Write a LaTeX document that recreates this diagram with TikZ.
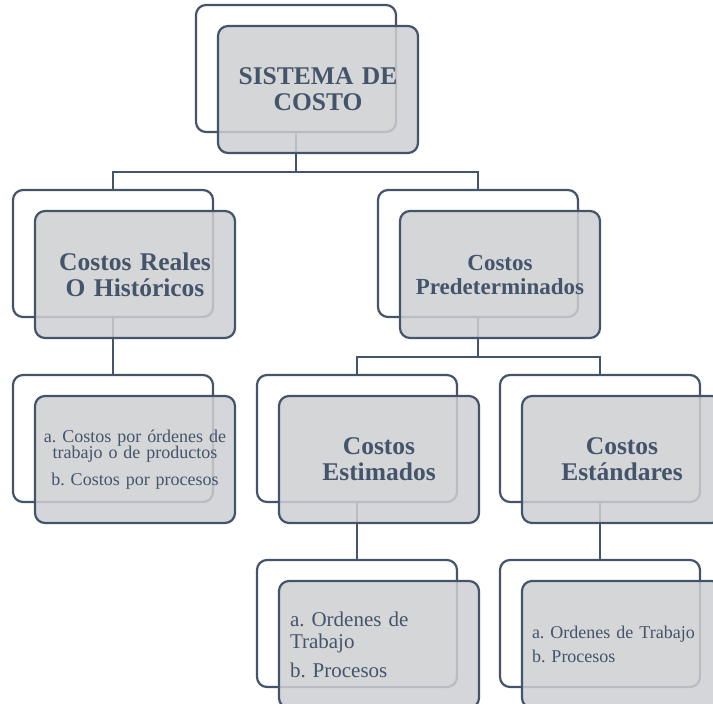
\documentclass[tikz,border=0pt]{standalone}
\usepackage{fontspec}
\setmainfont{Liberation Serif}
\definecolor{ink}{HTML}{44546A}
\definecolor{boxfill}{RGB}{206,207,210}
\frenchspacing
\begin{document}
\begin{tikzpicture}[x=1pt,y=-1pt,
  backbox/.style={draw=ink, line width=2.2pt, fill=white, rounded corners=10pt,
    minimum width=200pt, minimum height=127pt, inner sep=0pt, outer sep=0pt},
  frontbox/.style={draw=ink, line width=2.2pt, fill=boxfill, fill opacity=0.85,
    text opacity=1, rounded corners=10pt, text width=190pt, inner xsep=5pt,
    inner ysep=0pt, minimum height=127pt, outer sep=0pt, text=ink, align=center},
  leftbox/.style={frontbox, align=left, text width=178pt, inner xsep=11pt},
  link/.style={draw=ink, line width=2.2pt},
  bigtext/.style={font=\fontsize{25.5}{26}\selectfont\bfseries},
]
\useasboundingbox (0,0) rectangle (713,704);
\clip (0,0) rectangle (713,704);

% back boxes
\node[backbox] (b0) at (296,68.5) {};
\node[backbox] (b1) at (113,253.5) {};
\node[backbox] (b2) at (478,253.5) {};
\node[backbox] (b3) at (113,438.5) {};
\node[backbox] (b4) at (357,438.5) {};
\node[backbox] (b5) at (600,438.5) {};
\node[backbox] (b6) at (357,623.5) {};
\node[backbox] (b7) at (600,623.5) {};

% connectors
\coordinate (j1) at (296,172);
\coordinate (j2) at (478,357);
\draw[link] (b0.south) -- (j1);
\draw[link] (b1.north) |- (j1) -| (b2.north);
\draw[link] (b2.south) -- (j2);
\draw[link] (b4.north) |- (j2) -| (b5.north);
\draw[link] (b1.south) -- (b3.north);
\draw[link] (b4.south) -- (b6.north);
\draw[link] (b5.south) -- (b7.north);

% front boxes
\node[frontbox, bigtext] (f0) at (318,89.5) {SISTEMA DE\\COSTO};
\node[frontbox, bigtext] (f1) at (135,274.5) {Costos Reales\\O Históricos};
\node[frontbox, font=\fontsize{23}{24}\selectfont\bfseries] (f2) at (500,274.5) {Costos\\Predeterminados};
\node[frontbox, font=\fontsize{18}{16.5}\selectfont] (f3) at (135,459.5)
  {a. Costos por órdenes de\\trabajo o de productos\\[10.5pt]b. Costos por procesos};
\node[frontbox, bigtext] (f4) at (379,459.5) {Costos\\Estimados};
\node[frontbox, bigtext] (f5) at (622,459.5) {Costos\\Estándares};
\node[leftbox, font=\fontsize{21}{22}\selectfont] (f6) at (379,644.5)
  {a. Ordenes de\\Trabajo\\[7pt]b. Procesos};
\node[leftbox, text width=180pt, inner xsep=10pt, font=\fontsize{18}{24}\selectfont] (f7) at (622,644.5)
  {a. Ordenes de Trabajo\\b. Procesos};
\end{tikzpicture}
\end{document}
